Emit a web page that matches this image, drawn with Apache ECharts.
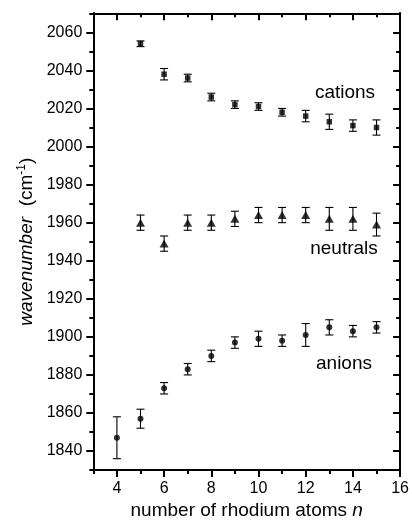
<!DOCTYPE html>
<html>
<head>
<meta charset="utf-8">
<script src="https://cdn.jsdelivr.net/npm/echarts@6/dist/echarts.min.js"></script>
<style>
html,body{margin:0;padding:0;background:#fff;}
#c{width:412px;height:525px;}
</style>
</head>
<body>
<div id="c"></div>
<script>
// ---- data ----
var nAnions   = [4, 5, 6, 7, 8, 9, 10, 11, 12, 13, 14, 15];
var anions    = [1847, 1857, 1873, 1883, 1890, 1897, 1899, 1898, 1901, 1905, 1903, 1905];
var anionsErr = [11, 5, 3, 3, 3, 3, 4, 3, 6, 4, 3, 3];

var nNeutrals   = [5, 6, 7, 8, 9, 10, 11, 12, 13, 14, 15];
var neutrals    = [1960, 1949, 1960, 1960, 1962, 1964, 1964, 1964, 1962, 1962, 1959];
var neutralsErr = [4, 4, 4, 4, 4, 4, 4, 4, 6, 6, 6];

var nCations   = [5, 6, 7, 8, 9, 10, 11, 12, 13, 14, 15];
var cations    = [2054, 2038, 2036, 2026, 2022, 2021, 2018, 2016, 2013, 2011, 2010];
var cationsErr = [1.5, 3, 2, 2, 2, 2, 2, 3, 4, 3, 4];

var xMajorTicks = [4, 6, 8, 10, 12, 14, 16];
var xMinorTicks = [3, 5, 7, 9, 11, 13, 15];
var yMajorTicks = [1840, 1860, 1880, 1900, 1920, 1940, 1960, 1980, 2000, 2020, 2040, 2060];
var yMinorTicks = [1830, 1850, 1870, 1890, 1910, 1930, 1950, 1970, 1990, 2010, 2030, 2050, 2070];

var groupLabels = ['cations', 'neutrals', 'anions'];

// ---- helpers ----
function pts(xs, ys, es) {
  return xs.map(function (x, i) { return [x, ys[i], es[i]]; });
}
var FONT = 'Liberation Sans, Arial, sans-serif';
var black = '#000';

function errorSeries(data) {
  return {
    type: 'custom',
    xAxisIndex: 0, yAxisIndex: 0,
    data: data,
    z: 3,
    silent: true,
    renderItem: function (params, api) {
      var x = api.value(0), y = api.value(1), e = api.value(2);
      var top = api.coord([x, y + e]);
      var bot = api.coord([x, y - e]);
      var hw = 4;
      var st = { stroke: black, lineWidth: 1.1 };
      return {
        type: 'group',
        children: [
          { type: 'line', shape: { x1: top[0], y1: top[1], x2: bot[0], y2: bot[1] }, style: st },
          { type: 'line', shape: { x1: top[0] - hw, y1: top[1], x2: top[0] + hw, y2: top[1] }, style: st },
          { type: 'line', shape: { x1: bot[0] - hw, y1: bot[1], x2: bot[0] + hw, y2: bot[1] }, style: st }
        ]
      };
    }
  };
}

function plain(v) { return String(v); }

function xAx(pos, ticks, len, inside, labels) {
  return {
    type: 'value', position: pos, min: 3, max: 16,
    axisLine: { show: true, onZero: false, lineStyle: { color: black, width: 2 } },
    axisTick: { show: true, customValues: ticks, length: len, inside: inside, lineStyle: { color: black, width: 2 } },
    axisLabel: labels ? { show: true, customValues: ticks, formatter: plain, color: black, fontSize: 16, fontFamily: FONT, margin: 10 } : { show: false },
    splitLine: { show: false }
  };
}
function yAx(pos, ticks, len, inside, labels) {
  return {
    type: 'value', position: pos, min: 1830, max: 2070,
    axisLine: { show: true, onZero: false, lineStyle: { color: black, width: 2 } },
    axisTick: { show: true, customValues: ticks, length: len, inside: inside, lineStyle: { color: black, width: 2 } },
    axisLabel: labels ? { show: true, customValues: ticks, formatter: plain, color: black, fontSize: 16, fontFamily: FONT, margin: 11 } : { show: false },
    splitLine: { show: false }
  };
}

var xA0 = xAx('bottom', xMajorTicks, 7, false, true);
xA0.name = '{t|number of rhodium atoms }{i|n}';
xA0.nameLocation = 'middle';
xA0.nameGap = 25;
xA0.nameTextStyle = {
  color: black, fontSize: 19, fontFamily: FONT,
  rich: { t: { fontSize: 19, fontFamily: FONT, color: black }, i: { fontSize: 19, fontFamily: FONT, fontStyle: 'italic', color: black } }
};

var yA0 = yAx('left', yMajorTicks, 7, false, true);
yA0.name = '{i|wavenumber}{t|  (cm}{s|-1}{t|)}';
yA0.nameLocation = 'middle';
yA0.nameGap = 55;
yA0.nameTextStyle = {
  color: black, fontSize: 19, fontFamily: FONT,
  rich: {
    i: { fontSize: 19, fontFamily: FONT, fontStyle: 'italic', color: black, lineHeight: 22 },
    t: { fontSize: 19, fontFamily: FONT, color: black, lineHeight: 22 },
    s: { fontSize: 12, fontFamily: FONT, color: black, verticalAlign: 'top', lineHeight: 12 }
  }
};

var option = {
  animation: false,
  backgroundColor: '#fff',
  grid: { left: 93.3, right: 8, top: 13.3, bottom: 52.3 },
  xAxis: [
    xA0,
    xAx('bottom', xMinorTicks, 4, false, false),
    xAx('top', xMajorTicks, 7, true, false),
    xAx('top', xMinorTicks, 4, true, false)
  ],
  yAxis: [
    yA0,
    yAx('left', yMinorTicks, 4, false, false),
    yAx('right', yMajorTicks, 7, true, false),
    yAx('right', yMinorTicks, 4, true, false)
  ],
  series: [
    errorSeries(pts(nCations, cations, cationsErr)),
    errorSeries(pts(nNeutrals, neutrals, neutralsErr)),
    errorSeries(pts(nAnions, anions, anionsErr)),
    { type: 'scatter', name: groupLabels[0], symbol: 'rect', symbolSize: 5.5, itemStyle: { color: black }, z: 4,
      data: nCations.map(function (x, i) { return [x, cations[i]]; }) },
    { type: 'scatter', name: groupLabels[1], symbol: 'triangle', symbolSize: [9, 8], itemStyle: { color: black }, z: 4,
      data: nNeutrals.map(function (x, i) { return [x, neutrals[i]]; }) },
    { type: 'scatter', name: groupLabels[2], symbol: 'circle', symbolSize: 6, itemStyle: { color: black }, z: 4,
      data: nAnions.map(function (x, i) { return [x, anions[i]]; }) }
  ],
  graphic: [
    { type: 'text', x: 345, y: 92.7, style: { text: groupLabels[0], fill: black, font: '19px ' + FONT, textAlign: 'center', textVerticalAlign: 'middle' } },
    { type: 'text', x: 344, y: 249, style: { text: groupLabels[1], fill: black, font: '19px ' + FONT, textAlign: 'center', textVerticalAlign: 'middle' } },
    { type: 'text', x: 344, y: 364, style: { text: groupLabels[2], fill: black, font: '19px ' + FONT, textAlign: 'center', textVerticalAlign: 'middle' } }
  ]
};

var chart = echarts.init(document.getElementById('c'), null, { renderer: 'canvas' });
chart.setOption(option);
</script>
</body>
</html>
